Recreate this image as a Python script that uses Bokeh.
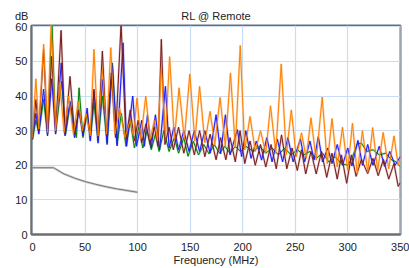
from bokeh.plotting import figure
from bokeh.models import FixedTicker, Range1d
from bokeh.embed import file_html
from bokeh.resources import INLINE

# ---------------- data ----------------
freq_orange = [0, 3.2, 6, 10.6, 14.3, 17.8, 22, 26, 30, 34.5, 39, 43.5, 47.5, 51, 55, 58.5, 62.4, 66.5, 70.5,
               74.5, 78.5, 83, 88, 93, 96, 99.5, 103, 107.8, 112, 116, 119, 122.6, 126.5, 130.5, 135, 139.5,
               144.5, 149.7, 154.5, 159, 164, 169, 173.5, 178.5, 183.5, 188.4, 193, 197.7, 202, 207, 212, 217,
               222, 226.5, 231.5, 236.7, 241.5, 246.3, 251, 256, 260.5, 265, 270, 275.7, 280.5, 285, 290, 295,
               300, 304.5, 309, 314, 319, 323.7, 328.5, 333.7, 339, 344, 348, 350]
db_orange = [28, 45, 30.5, 55, 29.5, 61, 30, 44, 29.5, 40, 29, 38.5, 30, 35, 28.5, 53.5, 28.5, 48, 29,
             54, 29, 36.5, 28, 33, 28.5, 39.5, 27.5, 40, 27.5, 33, 27, 48.6, 28, 51.4, 27.5, 42.4,
             27.5, 46.4, 27, 42.8, 26.5, 35.6, 26, 39.6, 25.5, 46.7, 25, 54.6, 24.5, 34.1, 24, 30,
             23.5, 37.2, 23.5, 49.3, 23, 36, 22.5, 29.4, 22, 33.7, 21.5, 39.7, 20.5, 33.5, 19.5, 31,
             18.5, 32.2, 17.5, 30, 18, 30.9, 18.5, 29.5, 19, 28.5, 20, 22]

freq_brown = [0, 3.2, 6, 10.6, 14.3, 18.3, 22, 27.2, 31, 35.7, 40, 44, 48, 51.5, 55, 58.5, 62.4, 66.5, 70.5,
              75, 79, 84.3, 89, 93, 97, 100.5, 104, 108, 112, 116, 119.5, 122.6, 126, 130, 134, 139, 144,
              149, 154, 159, 164, 169, 174.7, 179, 184, 188, 193, 197.5, 202, 207, 212, 217, 222, 227,
              232, 237, 242, 247, 252, 256, 260, 265, 270, 275, 280, 285, 290, 294, 299, 303.5, 308,
              313, 319, 324, 329, 334, 339, 344, 348, 350]
db_brown = [27.5, 39, 30, 53.5, 29, 51.5, 29.5, 59, 29, 45.7, 29, 36, 29.5, 35, 28.5, 42, 28, 53, 28.5,
            46.7, 28, 61, 27.5, 36, 27, 33, 26.5, 32, 26, 31, 25.5, 56.4, 26, 31, 24.5, 31, 23.5,
            30, 23, 30, 22.5, 29, 21.6, 28, 21.6, 28, 21, 30, 20.5, 27, 20, 26, 19.5, 26,
            19, 28.8, 19, 25, 18.5, 24.5, 17.5, 24, 17.5, 24, 16.5, 23.5, 16, 23, 14.8, 23, 16.8,
            21.7, 17.6, 22, 17, 21.7, 16, 20.5, 13.9, 15]

freq_blue = [0, 3.2, 6, 10.6, 14.3, 18.3, 22, 27.4, 31, 35.7, 40, 44.3, 48, 52, 55, 58.5, 62.4, 66.5, 71,
             76, 80.5, 86.2, 89.5, 95.4, 99, 104, 106.5, 109.4, 113, 117, 121, 126.5, 130, 134.5, 139,
             144, 149, 154, 159, 164, 169, 174.7, 179, 183.6, 188, 195, 199, 203, 208, 213, 218, 223,
             228, 233, 238, 243, 248, 255, 259, 264, 268, 272, 276, 281, 285, 290, 295, 300, 304,
             309.7, 314, 319, 324, 330, 335, 340, 345, 350]
db_blue = [27.5, 35, 29, 42, 28.5, 45, 29, 49.6, 28.5, 38.5, 28, 36, 28.5, 36.5, 27, 41.4, 26.4, 44.8, 26,
           49, 25.6, 55.4, 25.5, 40, 25.5, 33, 25.5, 34.6, 25, 34.6, 24.5, 42.8, 25, 31, 24.5,
           30, 24, 30, 24, 30, 23.5, 34.6, 23.3, 34.6, 23, 30.3, 22.5, 30, 22, 27, 21.5, 28,
           21, 27.5, 21, 28, 21, 27.6, 21, 27, 21.5, 28.3, 21, 25, 20.5, 26, 20, 25, 19.8,
           27.2, 20, 26, 20, 25.5, 19.7, 24, 20, 22.5]

freq_green = [0, 3.2, 6, 10.6, 14.3, 18.5, 22, 27.8, 31.5, 36, 41.8, 44.3, 48, 52, 55, 58.5, 62.4, 66.5, 71,
              76, 80.5, 84.5, 89, 93, 97, 101, 105, 109, 113, 117, 120.5, 125, 130, 135, 139, 144, 148,
              153, 158, 163, 168, 173, 178, 183, 188, 193, 198, 203, 210, 216, 222, 228, 234, 240, 246,
              252, 258, 264, 270, 276, 282, 288, 294, 300, 304, 309, 313, 318, 324, 330, 336, 342, 346, 350]
db_green = [27.5, 33, 29.5, 39, 29, 62, 29.5, 44.3, 29, 38, 28, 42.4, 28, 35, 27.5, 38, 27, 40, 26.5,
            49.6, 26, 35, 25.5, 33, 25, 31, 25, 30, 24.5, 29, 24, 30, 24, 28, 23.5, 28, 22.6,
            27, 23, 26, 23.3, 26, 23.5, 25.5, 23.5, 25.5, 24, 25.5, 24, 25.5, 23.5, 25, 23, 25, 23,
            24.5, 23, 24, 22, 23.5, 21, 22.5, 20.5, 20, 22, 26.2, 26.4, 24, 24.5, 23, 23.5, 21.5, 21, 19.6]

freq_limit = [0, 20, 30, 40, 50, 60, 70, 80, 90, 100]
db_limit = [19.3, 19.3, 17.5, 16.3, 15.3, 14.5, 13.8, 13.2, 12.7, 12.2]

x_ticks = [0, 50, 100, 150, 200, 250, 300, 350]
y_ticks = [0, 10, 20, 30, 40, 50, 60]

title_text = "RL @ Remote"
x_label = "Frequency (MHz)"
y_unit = "dB"

# ---------------- figure ----------------
FONT = "Liberation Sans"
p = figure(width=409, height=268, output_backend="svg", toolbar_location=None,
           x_range=Range1d(-0.95, 350.2), y_range=Range1d(0, 60.4),
           min_border_left=31, min_border_right=9, min_border_top=25, min_border_bottom=33)
p.background_fill_color = "white"
p.border_fill_color = "white"
p.outline_line_color = "#6e6e6e"
p.outline_line_width = 2

# unit "dB" sits at the top-left, on the same row as the centred title
gap = "\u00a0" * 50
p.title.text = y_unit + gap + title_text
p.title.align = "left"
p.title.offset = -16.5
p.title.text_font = FONT
p.title.text_font_size = "11px"
p.title.text_font_style = "normal"
p.title.text_color = "#222222"
p.title.standoff = 8

for ax in (p.xaxis, p.yaxis):
    ax.major_label_text_font = FONT
    ax.major_label_text_font_size = "11px"
    ax.major_label_text_color = "#222222"
    ax.major_tick_line_color = None
    ax.minor_tick_line_color = None
    ax.major_tick_out = 0
    ax.major_tick_in = 0
    ax.axis_line_color = "#6e6e6e"
    ax.axis_line_width = 2
    ax.major_label_standoff = 4
p.xaxis.major_label_standoff = 8
p.xaxis.ticker = FixedTicker(ticks=x_ticks)
p.yaxis.ticker = FixedTicker(ticks=y_ticks)
p.xaxis.axis_label = x_label
p.xaxis.axis_label_standoff = 0
p.xaxis.axis_label_text_font = FONT
p.xaxis.axis_label_text_font_size = "11px"
p.xaxis.axis_label_text_font_style = "normal"
p.xaxis.axis_label_text_color = "#222222"

p.xgrid.ticker = FixedTicker(ticks=x_ticks)
p.ygrid.ticker = FixedTicker(ticks=y_ticks)
for g in (p.xgrid, p.ygrid):
    g.grid_line_color = "#c9def5"
    g.grid_line_width = 1.2

series = [
    (freq_green, db_green, "#008000", "#9fd09f"),
    (freq_blue, db_blue, "#1a1aff", "#a0a0ff"),
    (freq_brown, db_brown, "#7a1a1a", "#d0a8a8"),
    (freq_orange, db_orange, "#ff8000", "#ffc890"),
]
for fx, fy, dark, light in series:
    p.line(fx, fy, line_color=light, line_width=2.2, line_alpha=0.7)
for fx, fy, dark, light in series:
    p.line(fx, fy, line_color=dark, line_width=1)

p.line(freq_limit, db_limit, line_color="#cccccc", line_width=2.4)
p.line(freq_limit, db_limit, line_color="#7a7a7a", line_width=1)

open("out.html", "w").write(file_html(p, INLINE))
